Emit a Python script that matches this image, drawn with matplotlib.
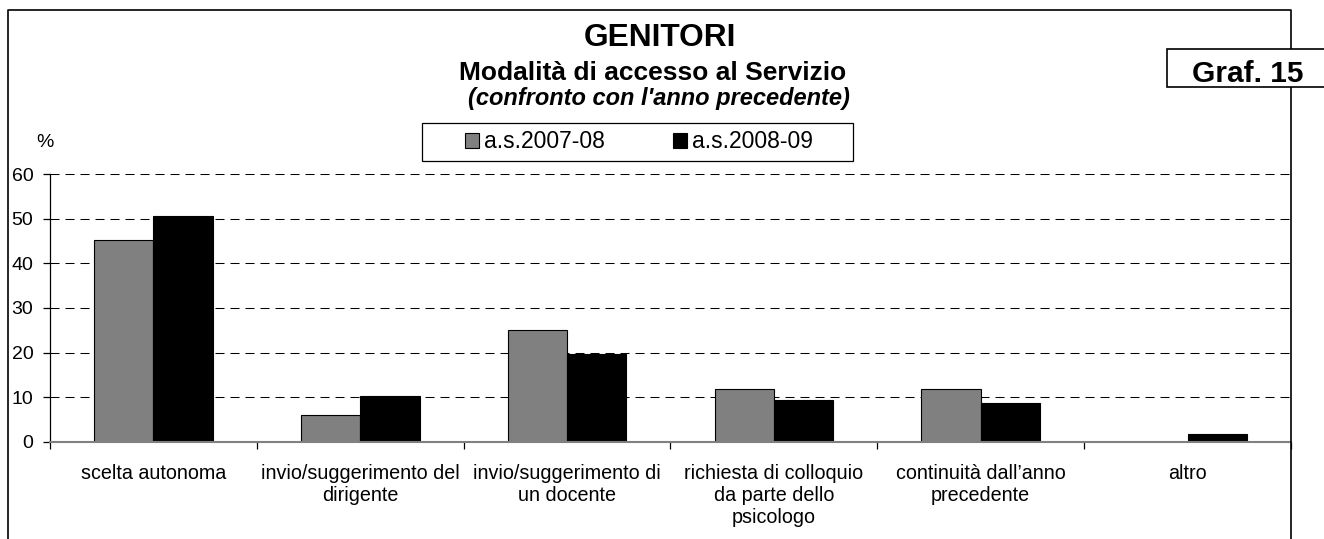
import numpy as np
import matplotlib
matplotlib.use("Agg")
import matplotlib.pyplot as plt
from matplotlib.patches import Rectangle, Patch
from matplotlib.lines import Line2D

plt.rcParams['font.family'] = ['Liberation Sans', 'DejaVu Sans']
plt.rcParams['lines.scale_dashes'] = False

categorie = ["scelta autonoma",
             "invio/suggerimento del\ndirigente",
             "invio/suggerimento di\nun docente",
             "richiesta di colloquio\nda parte dello\npsicologo",
             "continuità dall’anno\nprecedente",
             "altro"]
anno_0708 = [45.2, 6.0, 25.0, 11.9, 11.9, 0.0]
anno_0809 = [50.7, 10.4, 19.7, 9.4, 8.8, 1.7]
etichette = ["a.s.2007-08", "a.s.2008-09"]
colori = ["#808080", "#000000"]
y_ticks = [0, 10, 20, 30, 40, 50, 60]

W, H = 1324, 539


def fx(px):
    return px / W


def fy(py):
    return 1 - py / H


fig = plt.figure(figsize=(W / 100, H / 100), dpi=100)
ax = fig.add_axes([fx(50), fy(442), fx(1291) - fx(50), fy(174) - fy(442)])

x = np.arange(len(categorie))
bw = 0.287
ax.bar(x - bw / 2, anno_0708, bw, color=colori[0], edgecolor="black",
       linewidth=0.8, zorder=3)
ax.bar(x + bw / 2, anno_0809, bw, color=colori[1], edgecolor="black",
       linewidth=0.8, zorder=3)

ax.set_xlim(-0.5, len(categorie) - 0.5)
ax.set_ylim(0, 60)
ax.set_yticks(y_ticks)
ax.set_yticklabels([str(v) for v in y_ticks], fontsize=14)
ax.set_xticks(x)
ax.set_xticklabels(categorie, fontsize=14.2, linespacing=1.22)
ax.set_xticks(np.arange(-0.5, len(categorie)), minor=True)
ax.tick_params(axis="x", which="major", length=0, pad=15.5)
ax.tick_params(axis="x", which="minor", length=5, width=0.9, color="black",
               direction="out")
ax.tick_params(axis="y", length=5, width=0.9, color="black", pad=7)

ax.yaxis.grid(True, color="black", linewidth=0.75, linestyle=(0, (6.5, 4.3)),
              zorder=0)
ax.set_axisbelow(True)
for s in ["top", "right"]:
    ax.spines[s].set_visible(False)
ax.spines["bottom"].set_color("#808080")
ax.spines["bottom"].set_linewidth(1.5)
ax.spines["bottom"].set_zorder(4)
ax.spines["left"].set_color("black")
ax.spines["left"].set_linewidth(0.9)

# cornice esterna
fig.add_artist(Line2D([fx(8), fx(8), fx(1291), fx(1291)],
                      [0, fy(10), fy(10), 0],
                      transform=fig.transFigure, color="black", lw=1.2))

# titoli
fig.text(fx(660), fy(46), "GENITORI", fontsize=22.8, fontweight="bold",
         ha="center", va="baseline")
fig.text(fx(653), fy(80), "Modalità di accesso al Servizio", fontsize=19,
         fontweight="bold", ha="center", va="baseline")
fig.text(fx(659), fy(105), "(confronto con l'anno precedente)", fontsize=17,
         fontweight="bold", fontstyle="italic", ha="center", va="baseline")
fig.text(fx(45), fy(147), "%", fontsize=14, ha="center", va="baseline")

# riquadro Graf. 15
fig.add_artist(Rectangle((fx(1167), fy(87)), fx(1340) - fx(1167),
                         fy(49) - fy(87), transform=fig.transFigure,
                         facecolor="white", edgecolor="black", lw=1.2,
                         zorder=5))
fig.text(fx(1248), fy(82), "Graf. 15", fontsize=21.5, fontweight="bold",
         ha="center", va="baseline", zorder=6)

# legenda
fig.add_artist(Rectangle((fx(422), fy(161)), fx(853) - fx(422),
                         fy(123) - fy(161), transform=fig.transFigure,
                         facecolor="white", edgecolor="black", lw=0.9))
handles = [Patch(facecolor=c, edgecolor="black", linewidth=0.8) for c in colori]
fig.legend(handles, etichette, loc="center", bbox_to_anchor=(fx(639), fy(142)),
           ncol=2, frameon=False, fontsize=16.5, handlelength=0.6,
           handleheight=0.6, handletextpad=0.2, columnspacing=3.0,
           borderpad=0.1)

fig.savefig("out.png", dpi=100)
